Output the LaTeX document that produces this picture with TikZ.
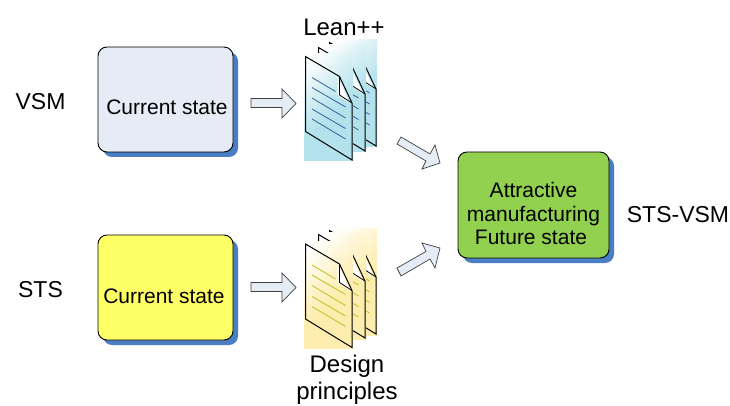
\documentclass[tikz,border=0pt]{standalone}
\usepackage{fontspec}
\setmainfont{Liberation Sans}
\definecolor{shadowblue}{HTML}{4A7EC4}
\definecolor{paleblue}{HTML}{E6ECF6}
\definecolor{brightyellow}{HTML}{FFFF66}
\definecolor{leafgreen}{HTML}{92D050}
\definecolor{docblue}{HTML}{B4E2EC}
\definecolor{docyellow}{HTML}{FDEDAE}
\definecolor{lineblue}{HTML}{3F6E9E}
\definecolor{lineyellow}{HTML}{C4C42E}
\pgfdeclareverticalshading{bluefade}{100bp}{color(0bp)=(docblue);color(46bp)=(docblue);color(62bp)=(docblue!55!white);color(76bp)=(docblue!12!white);color(84bp)=(white);color(100bp)=(white)}
\pgfdeclareverticalshading{yellowfade}{100bp}{color(0bp)=(docyellow);color(46bp)=(docyellow);color(62bp)=(docyellow!55!white);color(76bp)=(docyellow!12!white);color(84bp)=(white);color(100bp)=(white)}
\tikzset{
  statebox/.style={draw=black,line width=.9pt,rounded corners=9pt,minimum width=135pt,minimum height=105pt,inner sep=0pt,align=center},
  boxtext/.style={inner sep=0pt,align=center,font=\fontsize{21}{25}\selectfont},
  boxshadow/.style={fill=shadowblue,rounded corners=9pt},
  blockarrow/.style={draw=black!75,line width=.7pt,fill=paleblue,line join=miter},
  outerlabel/.style={font=\fontsize{23}{27.5}\selectfont,inner sep=0pt,align=center},
  pics/docicon/.style n args={2}{code={
     \shade[shading=#1,shading angle=45] (0,0) rectangle (49,-107);
     \fill[white] (33.5,-22.5) -- (33.5,-41) -- (46,-49) -- cycle;
     \draw[black,line width=1pt,line join=miter] (1.5,-2.5) -- (35.5,-22.5) -- (48,-49) -- (48,-106) -- (1.5,-77.5) -- cycle;
     \draw[black,line width=.8pt] (35.5,-22.5) -- (35.5,-41) -- (48,-49);
     \draw[#2,line width=.9pt] (8,-23.5) -- (31.5,-37.5) (8,-33.5) -- (41.5,-53) (8,-44) -- (41.5,-64) (8,-55) -- (41.5,-74.5) (8,-65) -- (41.5,-85);
  }}
}
\begin{document}
\begin{tikzpicture}[x=1pt,y=1pt]
\useasboundingbox (0,0) rectangle (730,-406);
\fill[white] (0,0) rectangle (730,-406);
% state boxes with shadows
\fill[boxshadow] (103,-52) rectangle (238,-157);
\node[statebox,fill=paleblue] (vsmstate) at (165.5,-99.5) {};
\node[boxtext] (vsmtext) at (167,-107.5) {Current state};
\fill[boxshadow] (103,-240) rectangle (238,-345);
\node[statebox,fill=brightyellow] (stsstate) at (165.5,-287.5) {};
\node[boxtext] (ststext) at (164,-296) {Current state};
\fill[boxshadow] (463,-157) rectangle (614,-263);
\node[statebox,fill=leafgreen,minimum width=151pt,minimum height=106pt] (future) at (533.5,-205) {};
\node[boxtext] (futuretext) at (533.5,-213.5) {Attractive\\[-1.5pt]manufacturing\\[-1.5pt]Future state\kern 5pt};
% block arrows
\draw[blockarrow] (251,-98.5) -- (282,-98.5) -- (282,-89) -- (296,-103.5) -- (282,-118) -- (282,-107.5) -- (251,-107.5) -- cycle;
\draw[blockarrow] (251,-282.5) -- (282,-282.5) -- (282,-273) -- (296,-287.5) -- (282,-302) -- (282,-291.5) -- (251,-291.5) -- cycle;
\draw[blockarrow] (401,-137) -- (430,-154) -- (435,-145) -- (440,-163) -- (422,-169) -- (426,-161) -- (397,-144) -- cycle;
\draw[blockarrow] (397,-268) -- (426,-251.5) -- (422,-243) -- (440,-248) -- (435,-268) -- (430,-259) -- (401,-276) -- cycle;
% document stacks
\pic at (328,-40) {docicon={bluefade}{lineblue}};
\pic at (317,-45) {docicon={bluefade}{lineblue}};
\pic at (304,-54) {docicon={bluefade}{lineblue}};
\pic at (328,-228) {docicon={yellowfade}{lineyellow}};
\pic at (317,-232) {docicon={yellowfade}{lineyellow}};
\pic at (304,-241.5) {docicon={yellowfade}{lineyellow}};
% labels
\node[outerlabel] (vsm) at (40.5,-102) {VSM};
\node[outerlabel] (sts) at (40.5,-290) {STS};
\node[outerlabel,font=\fontsize{24}{28}\selectfont] (lean) at (344,-27) {Lean++};
\node[outerlabel,font=\fontsize{24}{28}\selectfont] (design) at (347,-380) {Design\\[-1pt]principles};
\node[outerlabel] (stsvsm) at (678,-215) {STS-VSM};
\end{tikzpicture}
\end{document}
